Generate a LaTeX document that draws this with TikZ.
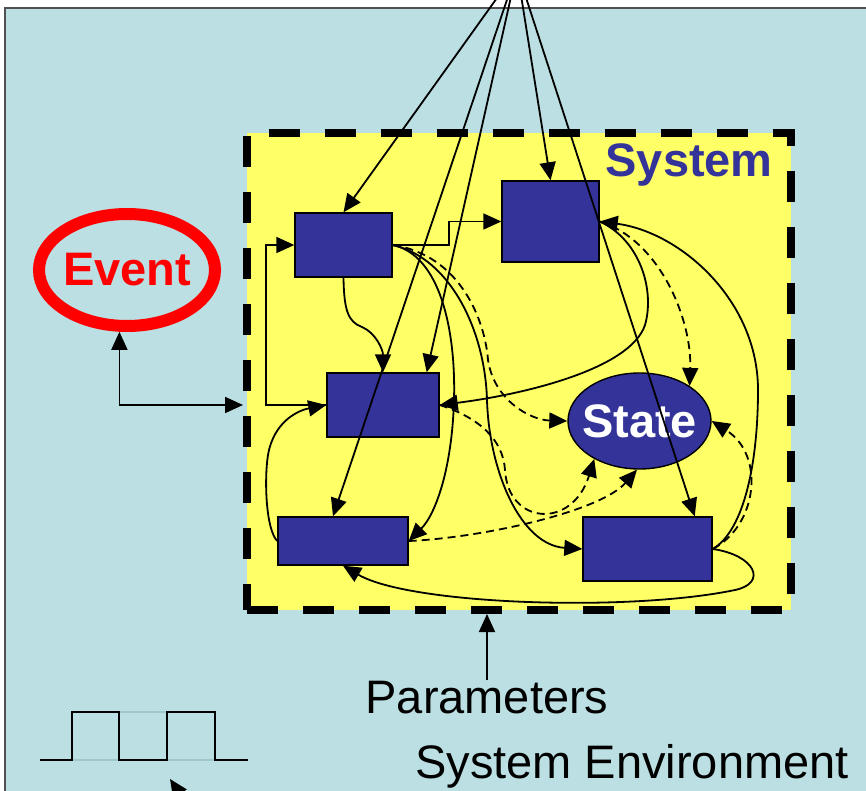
\documentclass[tikz,border=0pt]{standalone}
\usepackage{fontspec}
\setmainfont{Liberation Sans}
\usetikzlibrary{arrows.meta,shapes.geometric,calc}
\definecolor{envblue}{RGB}{187,223,226}
\definecolor{sysyellow}{RGB}{255,255,102}
\definecolor{boxblue}{RGB}{51,51,153}
\definecolor{evred}{RGB}{255,0,0}
\definecolor{framegray}{RGB}{80,80,80}
\definecolor{faint}{RGB}{160,200,204}
\begin{document}
\begin{tikzpicture}[x=1pt,y=-1pt,
  bigtxt/.style={font=\fontsize{47}{56}\selectfont, inner sep=0pt},
  boldtxt/.style={font=\bfseries\fontsize{47}{56}\selectfont, inner sep=0pt},
  blk/.style={rectangle, draw=black, line width=1.4pt, fill=boxblue, inner sep=0pt},
  tip/.tip={Triangle[length=18pt,width=16pt]},
  conn/.style={line width=1.8pt, -tip},
  dconn/.style={conn, dash pattern=on 8pt off 5pt},
  wave/.style={line width=1.8pt, line join=miter}]
\useasboundingbox (0,0) rectangle (866,791);
\clip (0,0) rectangle (866,791);

% environment background and frame
\fill[white] (0,0) rectangle (866,791);
\fill[envblue] (5,8) rectangle (866,791);
\draw[framegray, line width=1.5pt] (5,791) -- (5,8) -- (866,8);

% system boundary
\node[draw=black, fill=sysyellow, line width=8pt, dash pattern=on 31pt off 25pt,
      minimum width=544pt, minimum height=477pt, inner sep=0pt] (sys) at (519,371.5) {};
\node[boldtxt, text=boxblue, anchor=base east] (systxt) at (773,177) {System};

% components
\node[blk, minimum width=97pt,  minimum height=64pt] (A) at (343.5,245) {};
\node[blk, minimum width=97pt,  minimum height=81pt] (B) at (550.5,221.5) {};
\node[blk, minimum width=112pt, minimum height=64pt] (C) at (383,405) {};
\node[blk, minimum width=130pt, minimum height=48pt] (D) at (343,541) {};
\node[blk, minimum width=129pt, minimum height=64pt] (E) at (647.5,549) {};
\node[ellipse, draw=black, line width=1.4pt, fill=boxblue, inner sep=0pt,
      minimum width=143pt, minimum height=96pt, text=white,
      font=\bfseries\fontsize{47}{56}\selectfont] (St) at (639.5,421) {\makebox[0pt]{State}};

% event
\node[ellipse, draw=evred, line width=12pt, minimum width=176pt, minimum height=112pt,
      inner sep=0pt, text=evred, font=\bfseries\fontsize{47}{56}\selectfont] (ev) at (127,270) {\makebox[0pt]{Event}};
\draw[line width=1.8pt, tip-tip] (ev.-97) |- (sys.west |- C.west);

% inputs from outside the system
\coordinate (S) at (517,-30);
\draw[conn] (S) -- (A.north);
\draw[conn] (S) -- ([xshift=-10pt]D.north);
\draw[conn] (S) -- ([xshift=-13pt]C.north east);
\draw[conn] (S) -- (B.north);
\draw[conn] (S) -- ([xshift=-18pt]E.north east);

% internal connections
\draw[conn] (A.east) -- ++(56,0) |- (B.west);
\draw[conn] (C.west) -- ++(-60,0) |- (A.west);
\draw[conn] (A.south) .. controls (344,310) and (348,322) .. (362,327)
                      .. controls (376,333) and (383,350) .. (C.north);
\draw[conn] (A.east) .. controls (440,255) and (456,330) .. (454,400)
                     .. controls (452,470) and (435,515) .. (D.east);
\draw[conn] (A.east) .. controls (450,258) and (485,330) .. (487,400)
                     .. controls (489,470) and (520,545) .. (E.west);
\draw[dconn] (A.east) .. controls (460,255) and (485,320) .. (488,360)
                      .. controls (494,400) and (530,420) .. (St.west);
\draw[dconn] (C.east) .. controls (480,418) and (503,440) .. (505,470)
                      .. controls (508,525) and (572,530) .. (St.-140);
\draw[dconn] (D.east) .. controls (480,538) and (600,512) .. (St.-93);
\draw[conn] (B.east) .. controls (640,240) and (655,290) .. (645,325)
                     .. controls (630,370) and (520,395) .. (C.east);
\draw[dconn] (B.east) .. controls (660,240) and (692,320) .. (St.35);
\draw[conn] (E.east) .. controls (745,530) and (758,460) .. (758,390)
                     .. controls (758,300) and (680,232) .. (B.east);
\draw[dconn] (E.east) .. controls (758,525) and (765,455) .. (St.east);
\draw[conn] (E.east) .. controls (755,555) and (768,583) .. (735,590)
                     .. controls (630,612) and (410,605) .. (D.south);
\draw[conn] (D.west) .. controls (266,530) and (264,480) .. (268,455)
                     .. controls (274,420) and (300,410) .. (C.west);

% parameters
\node[bigtxt, anchor=base] (par) at (487,713) {Parameters};
\draw[conn] (par.north) -- (par.north |- sys.south);

\node[bigtxt, anchor=base] (env) at (632,778) {System Environment};

% clock signal
\draw[faint, line width=1.2pt] (72,760) -- (119,760) (167,760) -- (215,760) (119,712) -- (167,712);
\draw[wave] (40,760) -- (72,760) -- (72,712) -- (119,712) -- (119,760) -- (167,760)
            -- (167,712) -- (215,712) -- (215,760) -- (248,760);
\coordinate (ck0) at (184,800);
\coordinate (ck1) at (170,779);
\draw[conn] (ck0) -- (ck1);
\end{tikzpicture}
\end{document}
